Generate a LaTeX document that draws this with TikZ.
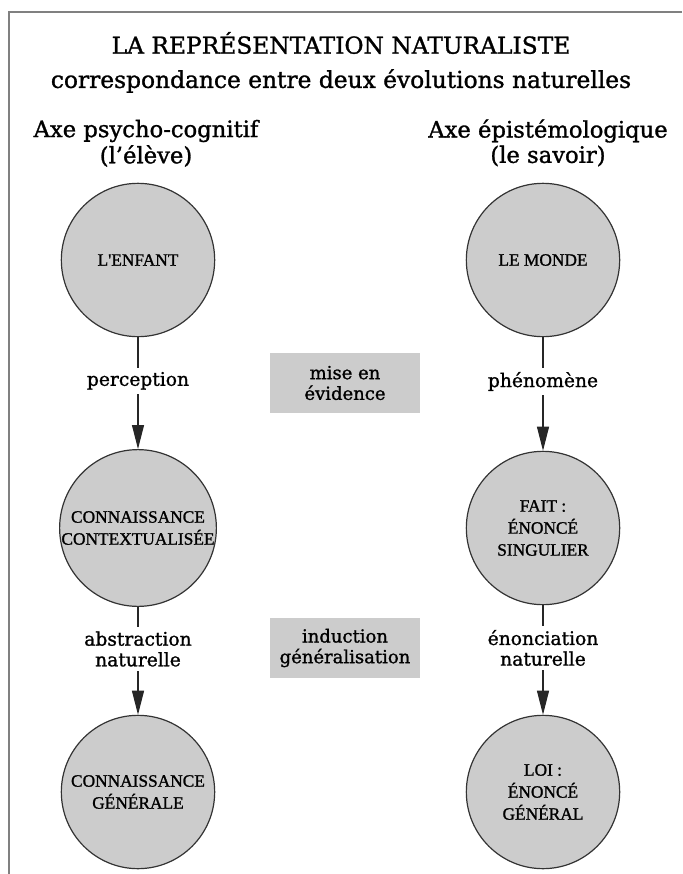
\documentclass[tikz,border=0pt]{standalone}
\usepackage{fontspec}
\setmainfont{DejaVu Serif}[FakeBold=1.2]
\newfontfamily\capsfont{Liberation Serif}[FakeBold=1.2]
\usetikzlibrary{arrows.meta}
\definecolor{discgray}{gray}{0.80}
\definecolor{boxgray}{gray}{0.80}
\definecolor{framegray}{gray}{0.50}
\begin{document}
\begin{tikzpicture}[x=0.75pt,y=-0.75pt,
    stage/.style={circle,draw=black!80,line width=0.9pt,fill=discgray,
      minimum size=115pt,inner sep=0pt,align=center,
      font=\capsfont\fontsize{13}{16.5}\selectfont},
    process/.style={fill=boxgray,minimum width=113pt,minimum height=45pt,
      inner sep=0pt,align=center,font=\fontsize{13.5}{15.5}\selectfont},
    lbl/.style={fill=white,align=center,inner sep=3pt,
      font=\fontsize{14}{15.5}\selectfont},
    heading/.style={align=center,font=\fontsize{17}{19}\selectfont},
    flow/.style={draw=black!85,line width=0.8pt,-{Triangle[length=18pt,width=9pt]}}]
  \useasboundingbox (0,0) rectangle (682,874);
  \draw[framegray,line width=1.3pt] (682,12) -- (9,12) -- (9,874);
  \draw
    (341,43) node[heading,font=\fontsize{17.5}{19}\selectfont] (titre){LA REPRÉSENTATION NATURALISTE}
    (341,81) node[heading,font=\fontsize{17.5}{19}\selectfont] (soustitre){correspondance entre deux évolutions naturelles}
    (146,131) node[heading] (axepsy){Axe psycho-cognitif}
    (146,156) node[heading] (eleve){(l'élève)}
    (548,131) node[heading] (axeepi){Axe épistémologique}
    (548,156) node[heading] (savoir){(le savoir)}
    (138,260) node[stage] (enfant){L'ENFANT}
    (138,528) node[stage] (contexte){CONNAISSANCE\\CONTEXTUALISÉE}
    (138,792) node[stage] (generale){CONNAISSANCE\\GÉNÉRALE}
    (543,260) node[stage] (monde){LE MONDE}
    (543,528) node[stage] (fait){FAIT :\\ÉNONCÉ\\SINGULIER}
    (543,792) node[stage] (loi){LOI :\\ÉNONCÉ\\GÉNÉRAL}
    (345,383) node[process] (evidence){mise en\\évidence}
    (345,648) node[process] (induction){induction\\généralisation};
  \begin{scope}[flow]
    \draw (enfant) to node[lbl,pos=0.39]{perception} (contexte);
    \draw (contexte) to node[lbl,pos=0.39]{abstraction\\naturelle} (generale);
    \draw (monde) to node[lbl,pos=0.39]{phénomène} (fait);
    \draw (fait) to node[lbl,pos=0.39]{énonciation\\naturelle} (loi);
  \end{scope}
\end{tikzpicture}
\end{document}
